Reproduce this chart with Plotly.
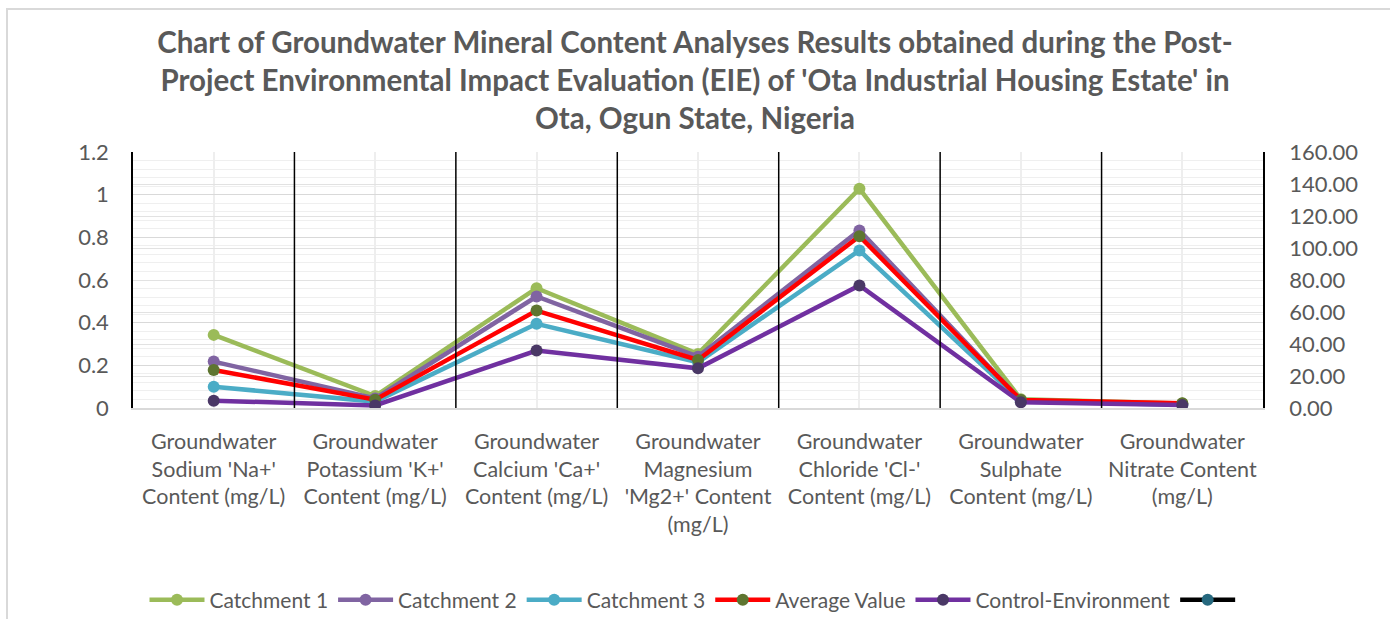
import plotly.graph_objects as go

# categories (x axis)
categories = [
    "Groundwater<br>Sodium 'Na+'<br>Content (mg/L)",
    "Groundwater<br>Potassium 'K+'<br>Content (mg/L)",
    "Groundwater<br>Calcium 'Ca+'<br>Content (mg/L)",
    "Groundwater<br>Magnesium<br>'Mg2+' Content<br>(mg/L)",
    "Groundwater<br>Chloride 'Cl-'<br>Content (mg/L)",
    "Groundwater<br>Sulphate<br>Content (mg/L)",
    "Groundwater<br>Nitrate Content<br>(mg/L)",
]

# series values (mg/L)
catchment_1 = [45.7, 7.5, 74.9, 33.8, 137.1, 5.5, 2.8]
catchment_2 = [29.0, 6.0, 69.7, 32.1, 111.0, 4.8, 2.4]
catchment_3 = [13.3, 4.0, 52.6, 28.6, 98.5, 4.2, 2.0]
average_value = [23.8, 5.2, 60.9, 30.0, 107.4, 5.0, 3.0]
control_env = [4.6, 1.6, 35.9, 24.8, 76.6, 3.6, 1.8]
empty_series = [None] * len(categories)

left_ticks = [0, 0.2, 0.4, 0.6, 0.8, 1, 1.2]
left_labels = ["0", "0.2", "0.4", "0.6", "0.8", "1", "1.2"]

FONT = "Lato"
GREY = "#595959"
xs = list(range(len(categories)))

fig = go.Figure()

series = [
    ("Catchment 1", catchment_1, "#9BBB59", "#9BBB59"),
    ("Catchment 2", catchment_2, "#8064A2", "#8064A2"),
    ("Catchment 3", catchment_3, "#4BACC6", "#4BACC6"),
    ("Average Value", average_value, "#FF0000", "#5E7530"),
    ("Control-Environment", control_env, "#7030A0", "#4A3866"),
]
for name, vals, lc, mc in series:
    fig.add_trace(go.Scatter(
        x=xs, y=vals, name=name, mode="lines+markers",
        line=dict(color=lc, width=4.5),
        marker=dict(color=mc, size=12),
        yaxis="y2"
    ))

# the unnamed, empty series on the primary axis
fig.add_trace(go.Scatter(
    x=xs, y=empty_series, name=" ", mode="lines+markers",
    line=dict(color="black", width=4.5),
    marker=dict(color="#26687E", size=12),
    yaxis="y"
))

fig.update_layout(
    width=1390, height=619,
    paper_bgcolor="white", plot_bgcolor="white",
    margin=dict(l=133, r=127, t=152, b=211, autoexpand=False),
    font=dict(family=FONT, color=GREY, size=21.5),
    title=dict(
        text="Chart of Groundwater Mineral Content Analyses Results obtained during the Post-<br>"
             "Project Environmental Impact Evaluation (EIE) of 'Ota Industrial Housing Estate' in<br>"
             "Ota, Ogun State, Nigeria",
        x=0.5, xanchor="center", xref="container",
        y=0.915, yanchor="top", yref="container",
        font=dict(family=FONT, size=29.5, color=GREY, weight="bold"),
    ),
    xaxis=dict(
        range=[-0.5, len(categories) - 0.5],
        tickvals=xs, ticktext=categories,
        showgrid=True, gridcolor="#eeeeee", gridwidth=2,
        showline=True, linecolor="#d9d9d9", linewidth=1.5,
        ticks="", ticklabelstandoff=13, automargin=False,
        tickfont=dict(size=21.5, color=GREY),
        zeroline=False,
    ),
    yaxis=dict(
        range=[0, 1.2], tickvals=left_ticks, ticktext=left_labels,
        showgrid=True, gridcolor="#d9d9d9", gridwidth=1,
        minor=dict(dtick=0.04, showgrid=True, gridcolor="#efefef", gridwidth=1),
        showline=True, linecolor="black", linewidth=1.5,
        zeroline=False, ticks="", ticklabelstandoff=18, automargin=False,
        tickfont=dict(size=22, color=GREY),
    ),
    yaxis2=dict(
        range=[0, 160], dtick=20, tickformat=".2f",
        overlaying="y", side="right",
        showgrid=True, gridcolor="#e2e2e2", gridwidth=1,
        showline=True, linecolor="black", linewidth=1.5,
        zeroline=False, ticks="", ticklabelstandoff=20, automargin=False,
        tickfont=dict(size=22, color=GREY),
    ),
    legend=dict(
        orientation="h", x=0.5, xanchor="center",
        y=-0.75, yanchor="middle",
        font=dict(size=21, color=GREY),
        itemwidth=55, tracegroupgap=0,
    ),
    showlegend=True,
)

# solid black separators on the category boundaries
for b in [i - 0.5 for i in xs[1:]]:
    fig.add_shape(type="line", xref="x", yref="paper", x0=b, x1=b, y0=0, y1=1,
                  line=dict(color="black", width=1.5), layer="above")

# chart-area border (extends past the bottom/right of the picture)
fig.add_shape(type="rect", xref="paper", yref="paper",
              x0=-0.1115, x1=1.2, y0=-1.0, y1=1.5586,
              line=dict(color="#d9d9d9", width=2), layer="below")

fig.write_html("out.html", config={"displayModeBar": False},
               post_script="document.body.style.margin='0';")
